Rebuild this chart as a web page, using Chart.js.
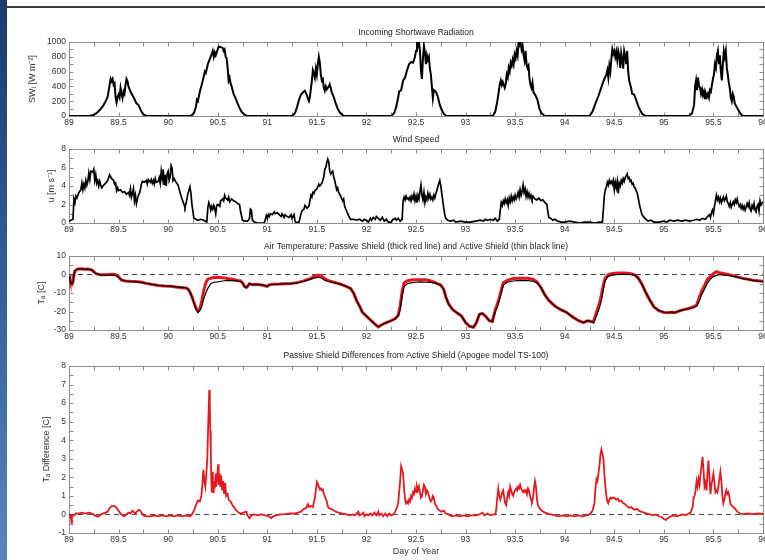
<!DOCTYPE html>
<html><head><meta charset="utf-8">
<script src="https://cdn.jsdelivr.net/npm/chart.js@4/dist/chart.umd.min.js"></script>
<style>
html,body{margin:0;padding:0;background:#fff;overflow:hidden;width:765px;height:560px;}
#wrap{position:relative;width:765px;height:560px;overflow:hidden;background:#fff;}
#strip{position:absolute;left:0;top:0;width:7px;height:560px;background:linear-gradient(#1c3a6c,#3f6ea6 70%,#5a86bb);}
#topline{position:absolute;left:7px;top:6px;width:758px;height:2px;background:#3c3c3c;}
canvas{position:absolute;left:0;}
</style></head><body>
<div id="wrap">
<div id="strip"></div><div id="topline"></div>
<canvas id="c1" width="800" height="102" style="top:28px;width:800px;height:102px"></canvas>
<canvas id="c2" width="800" height="102" style="top:135px;width:800px;height:102px"></canvas>
<canvas id="c3" width="800" height="102" style="top:242px;width:800px;height:102px"></canvas>
<canvas id="c4" width="800" height="206" style="top:351px;width:800px;height:206px"></canvas>
</div>
<script>
// ---------- data: [day of year, value] ----------
const dayRange = [89, 96];
const panelTitles = [
  "Incoming Shortwave Radiation",
  "Wind Speed",
  "Air Temperature: Passive Shield (thick red line) and Active Shield (thin black line)",
  "Passive Shield Differences from Active Shield (Apogee model TS-100)"
];
const yTitles = ["SW\u1D62 [W m\u207B\u00B2]", "u [m s\u207B\u00B9]", "T\u2090 [C]", "T\u2090 Difference [C]"];
const xTitle = "Day of Year";

const shortwave = [
[89,0],[89.2,0],[89.24,10],[89.28,40],[89.31,80],[89.34,130],[89.37,200],[89.39,260],[89.41,420],[89.42,500],[89.43,470],[89.44,500],[89.45,420],[89.46,440],[89.47,250],[89.48,180],[89.49,260],[89.5,290],[89.51,250],[89.52,380],[89.53,300],[89.54,240],[89.55,330],[89.56,300],[89.57,420],[89.58,500],[89.59,470],[89.6,400],[89.62,330],[89.64,280],[89.66,230],[89.68,170],[89.7,150],[89.71,120],[89.73,60],[89.75,20],[89.78,0],
[90.23,0],[90.26,40],[90.28,120],[90.29,220],[90.3,200],[90.32,330],[90.34,430],[90.36,540],[90.37,600],[90.38,580],[90.4,700],[90.42,770],[90.44,840],[90.45,880],[90.46,800],[90.47,860],[90.48,820],[90.5,900],[90.51,940],[90.53,930],[90.55,920],[90.56,880],[90.57,900],[90.58,800],[90.59,780],[90.6,650],[90.61,480],[90.62,520],[90.63,440],[90.64,400],[90.66,300],[90.68,240],[90.7,170],[90.72,110],[90.74,60],[90.76,30],[90.79,5],[90.81,0],
[91.25,0],[91.28,40],[91.3,120],[91.32,220],[91.34,290],[91.36,320],[91.38,340],[91.4,280],[91.41,230],[91.42,200],[91.43,260],[91.45,480],[91.46,620],[91.47,580],[91.48,520],[91.49,640],[91.5,560],[91.51,700],[91.52,800],[91.53,720],[91.54,560],[91.55,480],[91.56,500],[91.57,380],[91.58,340],[91.59,400],[91.6,360],[91.62,400],[91.63,430],[91.64,380],[91.65,320],[91.67,260],[91.69,170],[91.71,100],[91.73,50],[91.76,10],[91.78,0],
[92.25,0],[92.28,40],[92.3,120],[92.32,250],[92.33,330],[92.35,350],[92.37,480],[92.39,520],[92.41,620],[92.43,700],[92.45,730],[92.47,720],[92.49,800],[92.5,880],[92.51,1000],[92.52,950],[92.53,1000],[92.54,880],[92.55,620],[92.56,500],[92.57,780],[92.58,950],[92.59,860],[92.6,700],[92.61,820],[92.62,760],[92.63,800],[92.64,640],[92.65,560],[92.66,400],[92.67,240],[92.68,350],[92.7,330],[92.72,260],[92.74,150],[92.76,80],[92.78,30],[92.8,5],[92.82,0],
[93.275,0],[93.3,60],[93.32,200],[93.335,330],[93.345,430],[93.355,480],[93.365,420],[93.375,460],[93.395,380],[93.405,430],[93.415,560],[93.425,520],[93.435,650],[93.445,600],[93.455,720],[93.465,680],[93.475,760],[93.485,700],[93.495,830],[93.505,780],[93.515,880],[93.525,820],[93.535,1000],[93.545,960],[93.555,1000],[93.565,900],[93.575,950],[93.585,820],[93.595,750],[93.605,880],[93.615,700],[93.625,650],[93.635,680],[93.645,500],[93.655,420],[93.665,380],[93.675,450],[93.685,320],[93.705,280],[93.725,220],[93.745,100],[93.765,40],[93.795,5],[93.815,0],
[94.25,0],[94.28,60],[94.31,170],[94.34,270],[94.36,350],[94.38,430],[94.4,500],[94.42,560],[94.43,620],[94.44,520],[94.45,680],[94.46,600],[94.47,760],[94.48,900],[94.49,840],[94.5,880],[94.51,800],[94.52,870],[94.53,760],[94.54,880],[94.55,820],[94.56,650],[94.57,850],[94.58,760],[94.59,640],[94.6,880],[94.61,820],[94.62,700],[94.63,880],[94.64,600],[94.65,480],[94.67,380],[94.68,300],[94.7,290],[94.72,220],[94.74,140],[94.76,80],[94.78,30],[94.81,5],[94.83,0],
[95.255,0],[95.285,40],[95.305,150],[95.315,400],[95.325,480],[95.335,350],[95.345,520],[95.355,400],[95.365,380],[95.375,300],[95.385,360],[95.395,280],[95.405,330],[95.415,240],[95.425,300],[95.435,260],[95.445,300],[95.455,250],[95.465,350],[95.475,330],[95.485,420],[95.495,500],[95.505,560],[95.515,700],[95.525,650],[95.535,820],[95.545,880],[95.555,700],[95.565,820],[95.575,600],[95.585,480],[95.595,700],[95.605,880],[95.615,800],[95.625,880],[95.635,650],[95.645,560],[95.655,450],[95.665,380],[95.675,250],[95.685,200],[95.695,300],[95.705,260],[95.715,170],[95.735,120],[95.755,70],[95.775,30],[95.795,0],[96,0]
];

const windSpeed = [
[89,0.2],[89.02,0.3],[89.04,0.4],[89.05,2.6],[89.06,2.2],[89.07,2.9],[89.08,2.7],[89.1,3.3],[89.12,3.6],[89.13,4.3],[89.14,3.6],[89.15,4.2],[89.16,3.8],[89.17,4.6],[89.18,4.1],[89.19,4.5],[89.2,5.4],[89.21,4.7],[89.22,5.6],[89.24,5.5],[89.25,5.8],[89.26,4.6],[89.27,5.2],[89.28,4.3],[89.29,4.6],[89.3,4.0],[89.31,4.5],[89.32,4.1],[89.33,3.8],[89.35,4.1],[89.37,4.3],[89.39,4.6],[89.41,5.2],[89.42,5.0],[89.43,4.8],[89.45,4.6],[89.46,4.2],[89.47,4.3],[89.48,3.5],[89.49,3.8],[89.5,3.5],[89.52,3.6],[89.54,3.3],[89.56,3.4],[89.58,3.1],[89.6,3.3],[89.61,3.0],[89.62,3.7],[89.63,2.8],[89.64,3.2],[89.65,3.7],[89.66,2.4],[89.67,3.0],[89.68,2.1],[89.69,2.6],[89.7,3.0],[89.71,3.2],[89.72,3.6],[89.73,4.2],[89.74,4.5],[89.76,4.4],[89.78,4.6],[89.79,4.2],[89.8,4.7],[89.82,4.4],[89.83,4.7],[89.84,4.3],[89.85,4.6],[89.86,4.2],[89.87,4.8],[89.88,4.4],[89.9,4.5],[89.91,4.9],[89.92,4.3],[89.93,5.6],[89.94,4.8],[89.95,5.8],[89.96,4.1],[89.97,5.2],[89.98,4.0],[89.99,5.3],[90,5.6],[90.01,4.6],[90.02,5.0],[90.03,6.2],[90.04,5.9],[90.05,4.6],[90.06,4.8],[90.08,4.4],[90.1,4.1],[90.12,3.3],[90.14,2.6],[90.16,2.0],[90.17,1.7],[90.18,2.1],[90.2,3.2],[90.22,3.9],[90.23,3.2],[90.24,2.0],[90.26,0.5],
[90.28,0.4],[90.3,0.3],[90.33,0.4],[90.36,0.3],[90.39,0.1],[90.4,1.6],[90.41,2.2],[90.42,1.9],[90.43,1.4],[90.44,1.8],[90.45,1.5],[90.46,1.9],[90.47,1.6],[90.48,1.0],[90.49,1.9],[90.5,2.0],[90.52,1.8],[90.53,2.4],[90.55,2.6],[90.56,2.4],[90.57,3.0],[90.58,2.7],[90.6,2.5],[90.61,2.8],[90.62,2.3],[90.64,2.6],[90.66,2.4],[90.68,2.3],[90.7,2.1],[90.72,2.0],[90.73,1.3],[90.75,0.3],[90.78,0.2],[90.8,0.2],[90.82,0.5],[90.83,1.5],[90.84,1.4],[90.85,0.3],[90.87,0.1],[90.9,0],[90.97,0],
[90.99,0.8],[91.0,0.5],[91.01,0.9],[91.02,0.7],[91.03,1.0],[91.05,0.9],[91.07,1.2],[91.08,1.0],[91.1,1.1],[91.12,0.9],[91.14,0.7],[91.15,1.0],[91.17,0.6],[91.18,0.9],[91.2,0.7],[91.22,0.6],[91.24,0.9],[91.25,0.5],[91.27,0.9],[91.28,0.2],[91.29,0.05],[91.32,0.1],[91.34,1.0],[91.35,1.3],[91.37,1.5],[91.38,1.9],[91.4,1.6],[91.42,1.8],[91.44,3.0],[91.45,2.8],[91.46,3.3],[91.47,3.2],[91.48,3.5],[91.5,3.7],[91.52,4.2],[91.53,4.0],[91.55,4.3],[91.56,4.6],[91.57,5.0],[91.58,5.8],[91.59,6.0],[91.6,6.5],[91.61,6.9],[91.62,6.6],[91.63,5.6],[91.64,5.3],[91.65,5.5],[91.66,5.6],[91.67,5.0],[91.68,4.6],[91.7,3.6],[91.71,3.8],[91.72,3.3],[91.74,2.9],[91.76,2.4],[91.77,2.6],[91.78,1.8],[91.8,1.3],[91.82,0.8],[91.84,0.4],[91.87,0.4],[91.9,0.3],[91.93,0.4],[91.96,0.2],[91.98,0.4],[92.0,0.3],[92.02,0.1],[92.04,0.5],[92.05,0.3],[92.07,0.6],[92.09,0.4],[92.1,0.7],[92.12,0.5],[92.14,0.3],[92.16,0.6],[92.18,0.2],[92.2,0.4],[92.22,0.1],[92.25,0.1],[92.27,0.4],
[92.29,0.5],[92.3,0.3],[92.32,0.5],[92.34,0.2],[92.36,0.4],[92.37,2.4],[92.38,2.8],[92.39,2.5],[92.4,2.9],[92.41,2.6],[92.42,2.7],[92.43,2.5],[92.44,2.8],[92.45,2.4],[92.46,2.9],[92.47,2.6],[92.48,3.1],[92.49,2.4],[92.5,2.9],[92.51,2.2],[92.52,3.0],[92.53,2.6],[92.54,3.4],[92.55,4.1],[92.56,3.0],[92.57,2.5],[92.58,3.3],[92.59,2.2],[92.6,2.8],[92.61,2.5],[92.62,3.2],[92.63,2.7],[92.64,3.1],[92.65,2.6],[92.66,2.8],[92.67,2.5],[92.68,3.0],[92.69,2.7],[92.7,3.2],[92.71,3.5],[92.72,3.9],[92.73,4.3],[92.74,4.6],[92.75,4.0],[92.76,3.2],[92.77,2.4],[92.78,1.6],[92.79,0.9],[92.8,0.5],[92.82,0.3],[92.85,0.2],[92.88,0.3],[92.9,0.1],[92.95,0.2],[93.0,0.1],[93.05,0.1],[93.1,0.2],[93.15,0.3],[93.18,0.2],[93.2,0.4],[93.22,0.3],[93.25,0.4],[93.28,0.3],[93.3,0.5],[93.32,0.2],[93.34,0.4],[93.35,1.4],[93.36,2.2],[93.37,1.9],[93.38,2.4],[93.39,2.1],[93.4,2.6],[93.41,2.2],[93.42,2.5],[93.43,1.9],[93.44,2.7],[93.45,2.3],[93.46,2.9],[93.47,2.4],[93.48,2.8],[93.49,2.5],[93.5,3.0],[93.51,2.6],[93.52,2.9],[93.53,3.3],[93.54,2.8],[93.55,3.6],[93.56,3.0],[93.57,3.4],[93.58,4.1],[93.59,3.3],[93.6,3.7],[93.61,2.9],[93.62,3.4],[93.63,2.8],[93.64,3.2],[93.65,2.7],[93.66,3.0],[93.67,2.6],[93.68,2.9],[93.7,2.6],[93.72,2.5],[93.74,2.7],[93.76,2.4],[93.78,2.5],[93.8,2.2],[93.82,2.0],[93.83,1.2],[93.84,0.6],[93.86,0.5],[93.88,0.3],[93.9,0.4],[93.93,0.2],[93.96,0.1],[94.0,0.1],[94.05,0.2],[94.1,0.1],[94.15,0.0],[94.2,0.1],[94.25,0.1],[94.3,0.0],[94.35,0.1],[94.38,0.1],[94.39,1.5],[94.4,3.0],[94.41,3.6],[94.42,3.9],[94.43,4.4],[94.44,4.1],[94.45,4.6],[94.46,4.3],[94.47,4.5],[94.48,4.2],[94.49,4.6],[94.5,3.6],[94.51,4.4],[94.52,3.8],[94.53,4.5],[94.54,3.2],[94.55,4.3],[94.56,4.0],[94.57,4.6],[94.58,4.3],[94.59,4.8],[94.6,4.5],[94.61,4.9],[94.62,5.1],[94.63,5.3],[94.64,4.8],[94.65,4.9],[94.66,4.5],[94.67,4.6],[94.68,4.2],[94.69,4.3],[94.7,3.9],[94.71,3.8],[94.72,3.5],[94.73,3.3],[94.74,2.8],[94.75,2.2],[94.76,1.7],[94.77,1.3],[94.78,0.9],[94.8,0.6],[94.82,0.4],[94.84,0.2],[94.87,0.3],[94.9,0.1],[94.95,0.1],[95.0,0.2],[95.03,0.1],[95.06,0.3],[95.1,0.2],[95.14,0.3],[95.18,0.2],[95.22,0.3],[95.26,0.2],[95.3,0.3],[95.33,0.4],[95.36,0.3],[95.39,0.5],[95.42,0.4],[95.44,0.7],[95.46,0.9],[95.47,0.6],[95.48,1.1],[95.49,1.4],[95.5,1.0],[95.51,1.8],[95.52,2.4],[95.53,3.0],[95.54,2.5],[95.55,2.8],[95.56,2.3],[95.57,2.7],[95.58,2.2],[95.59,2.5],[95.6,2.8],[95.61,2.4],[95.62,2.6],[95.63,2.9],[95.64,2.3],[95.65,2.1],[95.66,1.8],[95.67,2.2],[95.68,1.7],[95.69,2.0],[95.7,2.3],[95.71,2.0],[95.72,2.5],[95.73,2.2],[95.74,2.6],[95.75,2.1],[95.76,1.8],[95.77,2.0],[95.78,1.6],[95.79,1.9],[95.8,1.5],[95.81,1.8],[95.82,1.4],[95.83,1.7],[95.84,2.1],[95.85,1.8],[95.86,2.2],[95.87,1.5],[95.88,1.3],[95.89,1.9],[95.9,1.6],[95.91,2.1],[95.92,1.4],[95.93,1.2],[95.94,1.8],[95.95,2.0],[95.96,1.3],[95.97,2.4],[95.98,2.0],[96.0,2.3]
];

const tempActive = [
[89.0,-1],[89.01,-3],[89.02,-4.5],[89.03,-5],[89.04,-4],[89.05,0],[89.06,2],[89.08,2.8],[89.1,3],[89.13,3],[89.16,2.8],[89.19,3],[89.22,2.6],[89.24,2],[89.26,1],[89.28,0.3],[89.32,-0.2],[89.36,-0.3],[89.4,-0.4],[89.44,-0.3],[89.47,-0.5],[89.5,-1.5],[89.53,-3],[89.57,-3.5],[89.62,-3.8],[89.67,-4],[89.72,-4.2],[89.78,-4.8],[89.84,-5.3],[89.9,-5.8],[89.96,-6.1],[90.02,-6.3],[90.08,-6.7],[90.14,-7],[90.18,-7.3],[90.2,-7.8],[90.22,-9.5],[90.24,-12],[90.26,-15.5],[90.28,-18.5],[90.3,-20.5],[90.32,-19.5],[90.34,-17],[90.36,-13],[90.38,-10],[90.4,-7.5],[90.43,-5],[90.46,-4.2],[90.5,-4],[90.55,-3.5],[90.6,-3.2],[90.65,-3.3],[90.7,-3.6],[90.73,-3.8],[90.75,-4.5],[90.77,-6.5],[90.79,-7],[90.8,-6.5],[90.82,-5],[90.85,-5.5],[90.88,-5.3],[90.92,-5.5],[90.96,-5.8],[91.0,-6.5],[91.02,-5.5],[91.06,-5.3],[91.12,-5.2],[91.18,-5],[91.24,-4.9],[91.3,-4.5],[91.36,-3.8],[91.4,-3.2],[91.44,-2.5],[91.48,-1.8],[91.52,-1.5],[91.55,-2],[91.58,-3.2],[91.62,-3.8],[91.68,-4.5],[91.74,-5.3],[91.8,-6.5],[91.84,-7.5],[91.87,-10],[91.9,-14],[91.93,-17],[91.96,-20.5],[92.0,-22.5],[92.04,-24.5],[92.08,-26.5],[92.12,-28.3],[92.16,-27],[92.2,-26],[92.25,-25],[92.29,-24],[92.32,-22.5],[92.34,-19],[92.36,-12],[92.38,-6.5],[92.41,-5],[92.45,-4.5],[92.5,-4.2],[92.55,-4],[92.6,-4.2],[92.65,-4.3],[92.7,-4.8],[92.75,-5.8],[92.78,-8],[92.8,-12],[92.83,-16],[92.87,-19],[92.92,-21],[92.96,-22.5],[93.0,-26],[93.04,-28],[93.08,-28.5],[93.11,-26],[93.14,-21.5],[93.17,-21],[93.2,-22.5],[93.24,-25],[93.27,-25.5],[93.3,-20],[93.33,-16],[93.36,-10],[93.38,-5.8],[93.42,-4.2],[93.48,-3.5],[93.55,-3.2],[93.62,-3.3],[93.68,-3.6],[93.72,-4.5],[93.76,-7],[93.8,-11],[93.84,-14],[93.9,-17],[93.96,-19],[94.02,-20.5],[94.08,-23],[94.14,-25],[94.19,-26],[94.23,-25],[94.26,-25.5],[94.29,-26.2],[94.32,-22.5],[94.35,-18],[94.37,-14],[94.39,-8],[94.41,-3],[94.44,-1],[94.48,-0.3],[94.54,0],[94.6,0.1],[94.66,0],[94.71,-0.5],[94.74,-2],[94.78,-5.5],[94.82,-10],[94.86,-14],[94.9,-17.5],[94.95,-19.5],[95.0,-20.3],[95.05,-20.5],[95.08,-20.2],[95.11,-20.6],[95.15,-19.8],[95.2,-19],[95.25,-18.5],[95.3,-17.8],[95.33,-17],[95.36,-14],[95.38,-11],[95.41,-8],[95.44,-4.5],[95.47,-2.5],[95.5,-1],[95.53,-0.5],[95.56,0],[95.6,-0.3],[95.65,-0.5],[95.7,-1],[95.75,-1.6],[95.8,-2.2],[95.86,-2.8],[95.92,-3.4],[96.0,-3.8]
];

const tempPassive = [
[89.0,-1],[89.01,-3.2],[89.02,-5],[89.03,-5.3],[89.04,-4],[89.05,0],[89.06,2],[89.08,2.8],[89.1,3],[89.13,3.1],[89.16,2.8],[89.19,3],[89.22,2.6],[89.24,2],[89.26,1],[89.28,0.3],[89.32,-0.2],[89.36,-0.2],[89.4,0],[89.44,0.1],[89.47,-0.1],[89.5,-1.3],[89.53,-3],[89.57,-3.5],[89.62,-3.7],[89.67,-3.8],[89.72,-4.1],[89.78,-4.8],[89.84,-5.4],[89.9,-5.9],[89.96,-6.2],[90.02,-6.3],[90.08,-6.8],[90.14,-7.1],[90.18,-7.3],[90.2,-7.8],[90.22,-9.5],[90.24,-12],[90.26,-15],[90.28,-18],[90.3,-19.8],[90.32,-18.5],[90.34,-14],[90.36,-8.5],[90.38,-4.5],[90.4,-2.5],[90.43,-2],[90.46,-1.6],[90.5,-1.5],[90.55,-1.7],[90.6,-2.2],[90.65,-2.6],[90.7,-3.2],[90.73,-3.4],[90.75,-4.5],[90.77,-6.5],[90.79,-7],[90.8,-6.5],[90.82,-5],[90.85,-5.5],[90.88,-5.3],[90.92,-5.5],[90.96,-5.8],[91.0,-6.4],[91.02,-5.6],[91.06,-5.3],[91.12,-5.2],[91.18,-5],[91.24,-4.9],[91.3,-4.4],[91.36,-3.6],[91.4,-2.8],[91.44,-2.1],[91.48,-0.5],[91.52,-0.4],[91.55,-1],[91.58,-2.3],[91.62,-3.4],[91.68,-4.3],[91.74,-5.2],[91.8,-6.5],[91.84,-7.5],[91.87,-10],[91.9,-14],[91.93,-17],[91.96,-20.5],[92.0,-22.5],[92.04,-24.5],[92.08,-26.5],[92.12,-28.3],[92.16,-27],[92.2,-26],[92.25,-25],[92.29,-23.8],[92.32,-22],[92.34,-17],[92.36,-9],[92.38,-4.5],[92.41,-3.5],[92.45,-3],[92.5,-2.8],[92.55,-2.8],[92.6,-2.8],[92.65,-3.5],[92.7,-4.5],[92.75,-5.7],[92.78,-8],[92.8,-12],[92.83,-16],[92.87,-19],[92.92,-21],[92.96,-22.5],[93.0,-26],[93.04,-28],[93.08,-28.5],[93.11,-26],[93.14,-21.5],[93.17,-21],[93.2,-22.5],[93.24,-25],[93.27,-25.4],[93.3,-19],[93.33,-14.5],[93.36,-8.5],[93.38,-4.5],[93.42,-3.2],[93.48,-2.2],[93.55,-2],[93.62,-2],[93.68,-2.5],[93.72,-4],[93.76,-7],[93.8,-11],[93.84,-14],[93.9,-17],[93.96,-19],[94.02,-20.5],[94.08,-23],[94.14,-25],[94.19,-26],[94.23,-25],[94.26,-25.3],[94.29,-25.5],[94.32,-20.5],[94.35,-15.5],[94.37,-11],[94.39,-5.5],[94.41,-1.8],[94.44,0],[94.48,0.5],[94.54,0.8],[94.6,0.8],[94.66,0.5],[94.71,-0.3],[94.74,-1.8],[94.78,-5.3],[94.82,-10],[94.86,-14],[94.9,-17.5],[94.95,-19.6],[95.0,-20.5],[95.05,-20.7],[95.08,-20.4],[95.11,-20.7],[95.15,-19.8],[95.2,-19],[95.25,-18.4],[95.3,-17.5],[95.33,-16.5],[95.36,-12],[95.38,-9],[95.41,-6],[95.44,-2.5],[95.47,-1],[95.5,0.5],[95.53,1.5],[95.56,1],[95.6,0.5],[95.65,0],[95.7,-0.6],[95.75,-1.4],[95.8,-2.1],[95.86,-2.7],[95.92,-3.3],[96.0,-3.7]
];

const tempDifference = [
[89.0,0],[89.01,-0.1],[89.02,-0.05],[89.025,-0.45],[89.03,-0.1],[89.05,-0.05],[89.07,0.05],[89.1,0.05],[89.13,0.1],[89.16,0.05],[89.2,0.1],[89.23,0.05],[89.26,-0.05],[89.29,-0.12],[89.31,-0.05],[89.34,0.05],[89.37,0.1],[89.39,0.15],[89.41,0.35],[89.43,0.45],[89.46,0.45],[89.48,0.35],[89.5,0.2],[89.52,0.05],[89.54,-0.05],[89.56,-0.1],[89.58,0],[89.6,0.1],[89.62,0.05],[89.64,0.2],[89.66,0.1],[89.67,0.05],[89.69,0.2],[89.71,0.25],[89.73,0.1],[89.75,-0.05],[89.78,-0.1],[89.82,-0.1],[89.86,-0.05],[89.9,-0.1],[89.94,-0.05],[89.98,-0.1],[90.02,-0.05],[90.06,-0.1],[90.1,-0.05],[90.14,-0.1],[90.18,-0.05],[90.22,-0.1],[90.24,0],[90.26,0.2],[90.28,0.5],[90.3,0.75],[90.32,0.7],[90.335,1.0],[90.345,1.6],[90.355,2.4],[90.365,1.8],[90.375,1.5],[90.385,2.2],[90.395,3.0],[90.405,5.0],[90.415,6.7],[90.42,6.0],[90.425,4.5],[90.43,3.5],[90.435,2.0],[90.44,1.2],[90.445,1.9],[90.45,2.3],[90.455,1.2],[90.46,1.8],[90.47,1.4],[90.48,2.2],[90.485,1.5],[90.495,2.1],[90.505,2.7],[90.51,1.6],[90.52,2.2],[90.525,1.5],[90.535,2.1],[90.545,1.3],[90.555,1.8],[90.565,1.1],[90.575,1.7],[90.585,1.0],[90.6,1.1],[90.61,0.8],[90.63,0.7],[90.65,0.5],[90.67,0.35],[90.69,0.2],[90.71,0.1],[90.73,0.05],[90.76,0.1],[90.79,0.15],[90.8,-0.05],[90.82,-0.2],[90.84,-0.05],[90.87,0],[90.9,-0.05],[90.94,0],[90.98,-0.05],[91.02,-0.1],[91.04,-0.2],[91.06,-0.1],[91.09,-0.05],[91.13,0],[91.18,0.02],[91.23,0.05],[91.27,0.05],[91.31,0.1],[91.34,0.15],[91.37,0.3],[91.39,0.35],[91.41,0.55],[91.42,0.4],[91.44,0.45],[91.46,0.4],[91.48,0.9],[91.49,1.3],[91.5,1.75],[91.51,1.65],[91.52,1.5],[91.53,1.35],[91.54,1.4],[91.55,1.3],[91.56,1.35],[91.57,1.1],[91.58,1.0],[91.6,0.7],[91.61,0.45],[91.62,0.35],[91.64,0.3],[91.66,0.25],[91.69,0.15],[91.72,0.1],[91.76,0.05],[91.8,0],[91.83,-0.05],[91.86,0],[91.88,-0.05],[91.9,0.05],[91.92,0.15],[91.93,-0.05],[91.95,0.0],[91.97,0.1],[91.98,-0.1],[92.0,0],[92.02,-0.05],[92.04,0.05],[92.06,-0.05],[92.08,0.1],[92.1,-0.05],[92.12,0.15],[92.13,-0.05],[92.15,0.05],[92.17,-0.1],
[92.19,0.05],[92.21,-0.1],[92.23,0.05],[92.25,-0.05],[92.27,0],[92.29,0.15],[92.31,0.4],[92.32,0.6],[92.33,1.2],[92.34,1.8],[92.35,2.6],[92.36,2.4],[92.37,2.2],[92.38,1.4],[92.39,0.8],[92.4,0.6],[92.41,0.7],[92.42,0.6],[92.43,0.8],[92.44,0.7],[92.45,1.0],[92.46,0.9],[92.47,1.2],[92.48,1.1],[92.49,1.4],[92.5,1.2],[92.51,1.5],[92.52,1.3],[92.53,1.5],[92.54,1.2],[92.55,0.9],[92.56,1.0],[92.57,1.3],[92.58,1.6],[92.59,1.5],[92.6,1.1],[92.61,1.3],[92.62,1.2],[92.63,1.0],[92.64,0.8],[92.65,0.7],[92.66,0.8],[92.67,1.0],[92.68,0.9],[92.69,0.6],[92.7,0.5],[92.71,0.4],[92.72,0.3],[92.74,0.2],[92.76,0.15],[92.78,0.2],[92.8,0.05],[92.83,0],[92.86,-0.1],[92.9,-0.05],[92.94,-0.1],[92.98,-0.05],[93.02,-0.1],[93.06,-0.05],[93.1,-0.05],[93.14,0],[93.17,0.1],[93.19,-0.05],[93.22,0.05],[93.25,-0.05],[93.28,0],
[93.3,0],[93.31,0.3],[93.32,0.9],[93.33,1.4],[93.34,1.0],[93.35,0.8],[93.36,1.0],[93.37,1.2],[93.38,1.3],[93.39,0.9],[93.4,0.6],[93.41,0.5],[93.42,0.9],[93.43,1.2],[93.44,1.0],[93.45,1.5],[93.46,1.3],[93.47,1.1],[93.48,1.0],[93.49,1.2],[93.5,1.3],[93.51,1.4],[93.52,1.3],[93.53,1.5],[93.54,1.4],[93.55,1.6],[93.56,1.4],[93.57,1.3],[93.58,1.2],[93.59,1.3],[93.6,1.2],[93.61,1.3],[93.62,1.1],[93.63,1.4],[93.64,1.3],[93.65,1.0],[93.66,0.8],[93.67,0.7],[93.68,0.9],[93.69,1.4],[93.7,1.8],[93.71,1.5],[93.72,0.8],[93.73,0.5],[93.75,0.3],[93.77,0.2],[93.8,0.1],[93.83,0.05],[93.86,0],[93.9,-0.05],[93.94,-0.1],[93.98,-0.05],[94.02,-0.1],[94.06,-0.05],[94.1,-0.1],[94.14,-0.05],[94.18,-0.1],[94.22,-0.05],[94.25,0],[94.28,0.2],[94.3,0.6],[94.31,1.4],[94.32,1.9],[94.33,1.8],[94.34,2.2],[94.35,2.6],[94.36,3.2],[94.37,3.5],[94.38,3.3],[94.39,3.0],[94.4,2.2],[94.41,1.5],[94.42,1.0],[94.43,0.7],[94.44,0.6],[94.45,0.8],[94.46,0.9],[94.47,0.85],[94.48,0.9],[94.5,0.9],[94.52,0.8],[94.54,0.85],[94.55,0.7],[94.57,0.75],[94.59,0.6],[94.61,0.55],[94.63,0.45],[94.65,0.35],[94.67,0.4],[94.69,0.3],[94.71,0.25],[94.73,0.3],[94.75,0.2],[94.77,0.15],[94.8,0.1],[94.83,0.05],[94.86,0],[94.89,-0.05],[94.92,0],[94.95,-0.1],[94.98,-0.15],[95.0,-0.25],[95.02,-0.3],[95.04,-0.2],[95.07,-0.1],[95.1,-0.05],[95.13,-0.1],[95.16,-0.05],[95.19,0],[95.22,-0.05],[95.25,0.05],
[95.27,0.1],[95.29,0.4],[95.3,0.9],[95.31,1.0],[95.32,1.3],[95.33,1.8],[95.34,1.5],[95.35,1.9],[95.36,1.6],[95.37,2.2],[95.38,2.6],[95.39,3.1],[95.4,2.4],[95.41,1.5],[95.42,1.7],[95.43,1.3],[95.44,2.2],[95.45,2.9],[95.46,2.0],[95.47,1.1],[95.48,1.6],[95.49,1.9],[95.5,2.2],[95.51,1.7],[95.52,1.2],[95.53,1.3],[95.54,1.2],[95.55,1.5],[95.56,1.9],[95.57,2.3],[95.58,1.8],[95.59,1.0],[95.6,0.6],[95.61,0.8],[95.62,1.1],[95.63,1.3],[95.64,1.1],[95.65,1.2],[95.66,1.0],[95.67,0.6],[95.68,0.5],[95.7,0.4],[95.72,0.3],[95.74,0.15],[95.77,0.05],[95.8,0.02],[95.85,0.05],[95.9,0.02],[95.95,0.05],[96.0,0.03]
];

const zeroLine = [[89, 0], [96, 0]];

// y-axis ranges: [min, max, minor step, label step]
const yAxes = [[0, 1000, 100, 200], [0, 8, 1, 2], [-30, 10, 5, 10], [-1, 8, 0.5, 1]];

// ---------- rendering ----------
const FONT = "'Liberation Sans', Arial, Helvetica, sans-serif";
const RED = '#e3191f';
const xy = arr => arr.map(p => ({x: p[0], y: p[1]}));
const isMult = (v, s) => Math.abs(v / s - Math.round(v / s)) < 1e-6;

const framePlugin = {
  id: 'frame',
  beforeDatasetsDraw(chart) {
    const {ctx, chartArea: a, scales} = chart;
    ctx.save();
    ctx.strokeStyle = '#8c8c8c';
    ctx.lineWidth = 1;
    const L = Math.round(a.left) + 0.5, R = Math.round(a.right) + 0.5;
    const T = Math.round(a.top) + 0.5, B = Math.round(a.bottom) + 0.5;
    ctx.strokeRect(L, T, R - L, B - T);
    ctx.beginPath();
    const len = 4;
    scales.x.ticks.forEach(t => {
      const p = Math.round(scales.x.getPixelForValue(t.value)) + 0.5;
      ctx.moveTo(p, B); ctx.lineTo(p, B - len);
      ctx.moveTo(p, T); ctx.lineTo(p, T + len);
    });
    scales.y.ticks.forEach(t => {
      const p = Math.round(scales.y.getPixelForValue(t.value)) + 0.5;
      ctx.moveTo(L, p); ctx.lineTo(L + len, p);
      ctx.moveTo(R, p); ctx.lineTo(R - len, p);
    });
    ctx.stroke();
    ctx.restore();
  }
};

function makeChart(id, idx, datasets, yTitlePad, xHeight, showXTitle) {
  const [ymin, ymax, ystep, ylab] = yAxes[idx];
  return new Chart(document.getElementById(id), {
    type: 'line',
    data: {datasets},
    plugins: [framePlugin],
    options: {
      responsive: false, animation: false, devicePixelRatio: 1,
      layout: {padding: {left: 0, right: 37, top: 0, bottom: 0}},
      elements: {point: {radius: 0}, line: {tension: 0}},
      plugins: {
        legend: {display: false}, tooltip: {enabled: false},
        title: {display: true, text: panelTitles[idx], color: '#222', fullSize: false,
                font: {family: FONT, size: 8.5, weight: 'normal'}, padding: {top: 0, bottom: idx === 3 ? 4.8 : 3.8}}
      },
      scales: {
        x: {
          type: 'linear', min: dayRange[0], max: dayRange[1],
          grid: {display: false, drawTicks: false}, border: {display: false},
          ticks: {stepSize: 0.25, autoSkip: false, maxRotation: 0, padding: 2, color: '#333',
                  font: {family: FONT, size: 8.5},
                  callback: v => isMult(v, 0.5) ? String(+v.toFixed(2)) : ''},
          title: {display: showXTitle, text: xTitle, color: '#333', font: {family: FONT, size: 9}, padding: {top: 0, bottom: 0}},
          afterFit: s => { s.height = xHeight; }
        },
        y: {
          min: ymin, max: ymax,
          grid: {display: false, drawTicks: false}, border: {display: false},
          ticks: {stepSize: ystep, autoSkip: false, padding: 3, color: '#333',
                  font: {family: FONT, size: 8.5},
                  callback: v => isMult(v, ylab) ? String(+v.toFixed(2)) : ''},
          title: {display: true, text: yTitles[idx], color: '#333', font: {family: FONT, size: 9}, padding: {top: yTitlePad, bottom: 0}},
          afterFit: s => { s.width = 69; }
        }
      }
    }
  });
}

makeChart('c1', 0, [
  {data: xy(shortwave), borderColor: '#000', borderWidth: 2}
], 27.6, 14, false);

makeChart('c2', 1, [
  {data: xy(windSpeed), borderColor: '#000', borderWidth: 1.7}
], 46.3, 14, false);

makeChart('c3', 2, [
  {data: xy(tempActive), borderColor: '#000', borderWidth: 1.2},
  {data: xy(tempPassive), borderColor: RED, borderWidth: 3},
  {data: xy(zeroLine), borderColor: '#444', borderWidth: 1, borderDash: [5, 4]}
], 36.3, 14, false);

makeChart('c4', 3, [
  {data: xy(tempDifference), borderColor: RED, borderWidth: 1.8},
  {data: xy(zeroLine), borderColor: '#444', borderWidth: 1, borderDash: [5, 4]}
], 41.3, 24, true);
</script>
</body></html>
